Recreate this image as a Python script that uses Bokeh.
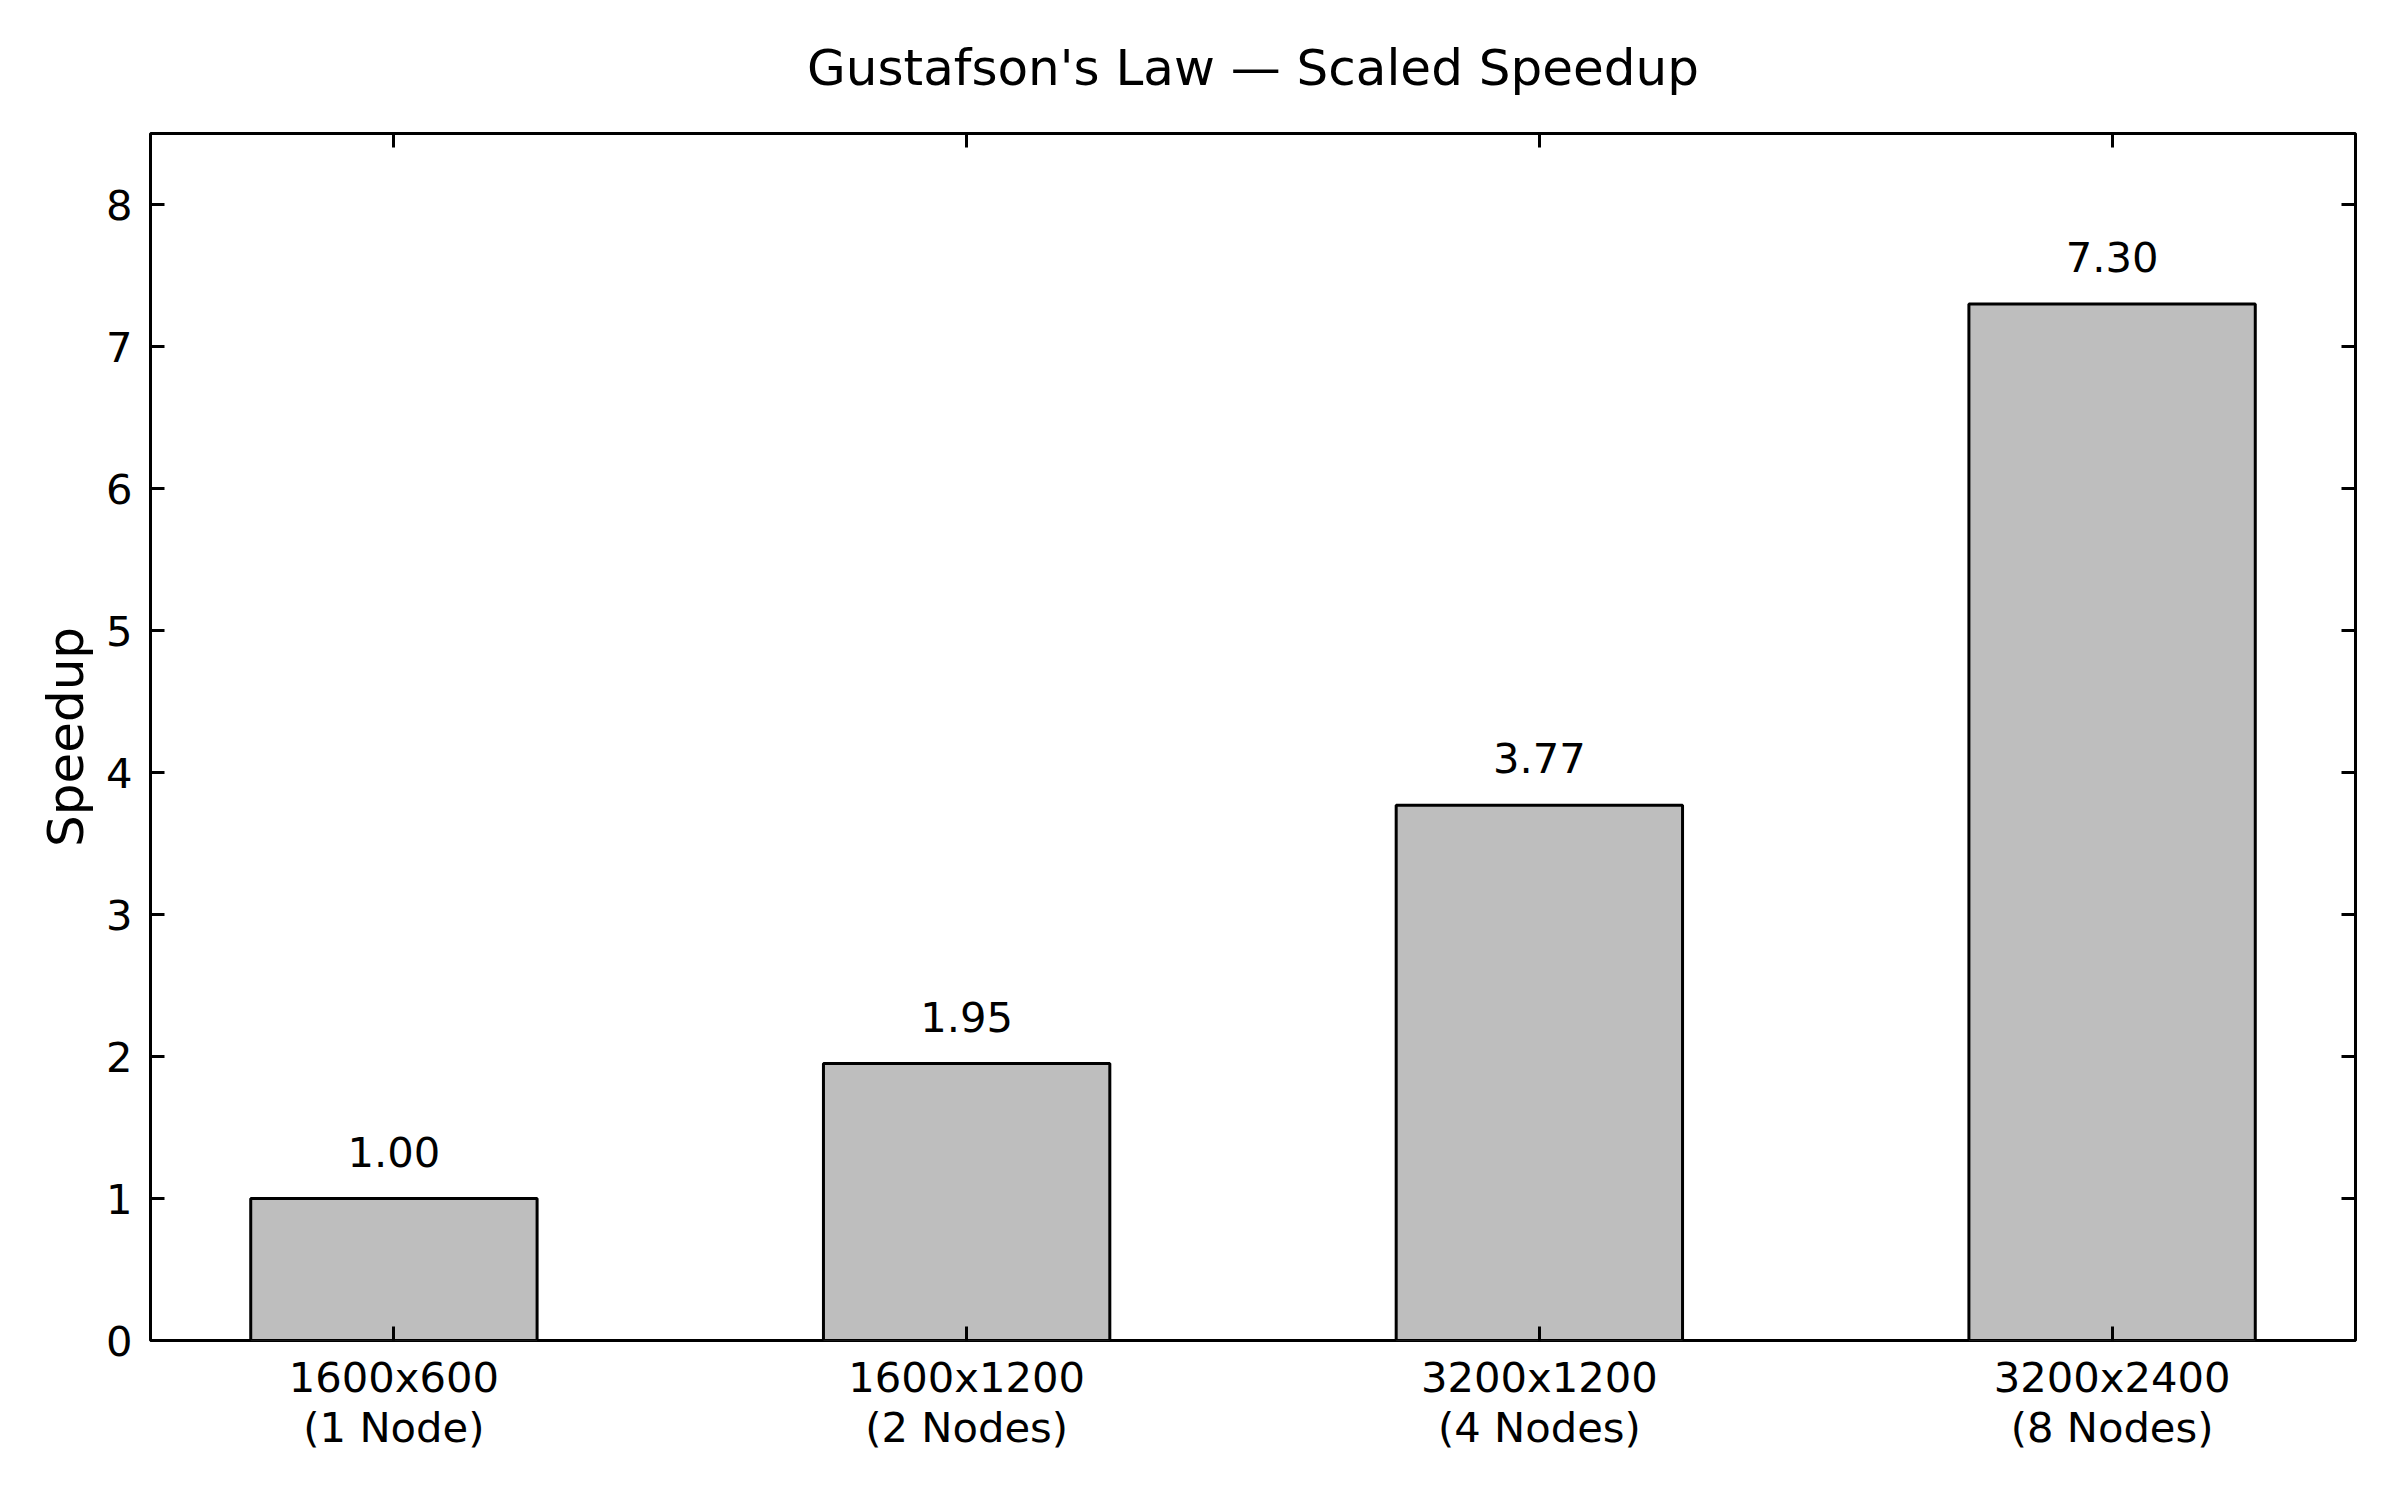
from bokeh.plotting import figure
from bokeh.models import Range1d, FixedTicker, LinearAxis, ColumnDataSource
from bokeh.embed import file_html
from bokeh.resources import INLINE
from bokeh.core.properties import value

categories = ["1600x600\n(1 Node)", "1600x1200\n(2 Nodes)", "3200x1200\n(4 Nodes)", "3200x2400\n(8 Nodes)"]
speedup = [1.00, 1.95, 3.77, 7.30]
y_ticks = [0, 1, 2, 3, 4, 5, 6, 7, 8]

FONT = "DejaVu Sans"
xs = list(range(len(categories)))
src = ColumnDataSource(dict(x=xs, top=speedup, label=[f"{v:.2f}" for v in speedup]))

p = figure(width=2400, height=1500, output_backend="svg", toolbar_location=None,
           x_range=Range1d(-0.425, len(categories) - 1 + 0.425), y_range=Range1d(0, 8.5),
           min_border_left=150, min_border_right=45, min_border_top=133, min_border_bottom=160,
           x_axis_location=None, y_axis_location=None)
p.grid.visible = False
p.background_fill_color = "white"
p.border_fill_color = "white"
p.outline_line_color = "black"
p.outline_line_width = 3

p.title.text = "Gustafson's Law \u2014 Scaled Speedup"
p.title.text_font = FONT
p.title.text_font_size = "50px"
p.title.text_font_style = "normal"
p.title.align = "center"
p.title.text_color = "black"
p.title.standoff = 73

def style(ax, ticks, labels=True):
    ax.axis_line_color = None
    ax.major_tick_in = 14
    ax.major_tick_out = 0
    ax.minor_tick_line_color = None
    ax.major_tick_line_width = 3
    ax.major_tick_line_color = "black"
    ax.major_label_text_font = FONT
    ax.major_label_text_color = "black"
    ax.major_label_text_font_size = "41.7px"
    if not labels:
        ax.major_label_overrides = {t: "" for t in ticks}
        ax.major_label_standoff = 0

xt = FixedTicker(ticks=xs)
yt = FixedTicker(ticks=y_ticks)

bottom = LinearAxis(ticker=xt)
style(bottom, xs)
bottom.major_label_overrides = {i: c for i, c in zip(xs, categories)}
bottom.major_label_text_line_height = 1.03
bottom.major_label_standoff = 12
p.add_layout(bottom, "below")

top = LinearAxis(ticker=xt)
style(top, xs, labels=False)
p.add_layout(top, "above")

left = LinearAxis(ticker=yt, axis_label="Speedup")
style(left, y_ticks)
left.major_label_standoff = 18
left.axis_label_text_font = FONT
left.axis_label_text_font_size = "50px"
left.axis_label_text_font_style = "normal"
left.axis_label_text_color = "black"
left.axis_label_standoff = 8
p.add_layout(left, "left")

right = LinearAxis(ticker=yt)
style(right, y_ticks, labels=False)
p.add_layout(right, "right")

p.vbar(x="x", top="top", width=0.5, bottom=0, source=src,
       fill_color="#bebebe", line_color="black", line_width=3)

p.text(x="x", y="top", text="label", source=src, text_align="center",
       text_baseline="alphabetic", y_offset=-47, text_font=value(FONT),
       text_font_size="41.7px", text_color="black")

open("out.html", "w").write(file_html(p, INLINE))
